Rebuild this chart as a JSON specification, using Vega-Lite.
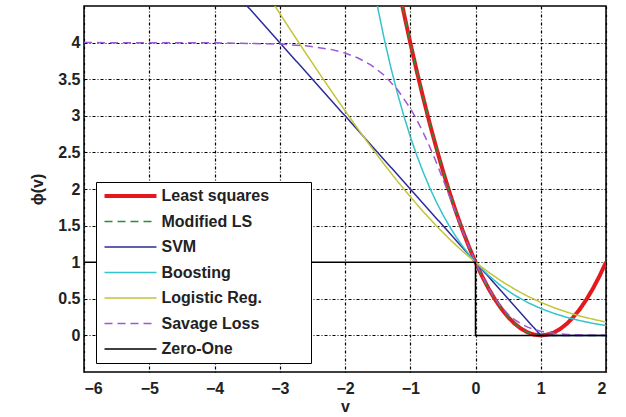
{
  "$schema": "https://vega.github.io/schema/vega-lite/v6.json",
  "width": 522,
  "height": 366,
  "autosize": {"type": "none"},
  "padding": {"left": 84, "top": 6, "right": 20, "bottom": 45},
  "background": "white",
  "config": {
    "view": {"stroke": "black", "strokeWidth": 1.5},
    "font": "Liberation Sans",
    "axis": {
      "labelFont": "Liberation Sans",
      "labelFontSize": 16,
      "labelFontWeight": "bold",
      "labelColor": "#222",
      "titleFont": "Liberation Sans",
      "titleFontSize": 16,
      "titleFontWeight": "bold",
      "titleColor": "#222",
      "domain": false,
      "ticks": false,
      "grid": true,
      "gridColor": "black",
      "gridOpacity": 1,
      "gridWidth": 1.2,
      "gridDash": [3, 2, 1, 2]
    }
  },
  "data": {
    "values": [
      {"series": "Least squares", "v": -1.2, "y": 4.84},
      {"series": "Least squares", "v": -1.1, "y": 4.41},
      {"series": "Least squares", "v": -1.0, "y": 4.0},
      {"series": "Least squares", "v": -0.9, "y": 3.61},
      {"series": "Least squares", "v": -0.8, "y": 3.24},
      {"series": "Least squares", "v": -0.7, "y": 2.89},
      {"series": "Least squares", "v": -0.6, "y": 2.56},
      {"series": "Least squares", "v": -0.5, "y": 2.25},
      {"series": "Least squares", "v": -0.4, "y": 1.96},
      {"series": "Least squares", "v": -0.3, "y": 1.69},
      {"series": "Least squares", "v": -0.2, "y": 1.44},
      {"series": "Least squares", "v": -0.1, "y": 1.21},
      {"series": "Least squares", "v": 0.0, "y": 1.0},
      {"series": "Least squares", "v": 0.1, "y": 0.81},
      {"series": "Least squares", "v": 0.2, "y": 0.64},
      {"series": "Least squares", "v": 0.3, "y": 0.49},
      {"series": "Least squares", "v": 0.4, "y": 0.36},
      {"series": "Least squares", "v": 0.5, "y": 0.25},
      {"series": "Least squares", "v": 0.6, "y": 0.16},
      {"series": "Least squares", "v": 0.7, "y": 0.09},
      {"series": "Least squares", "v": 0.8, "y": 0.04},
      {"series": "Least squares", "v": 0.9, "y": 0.01},
      {"series": "Least squares", "v": 1.0, "y": 0.0},
      {"series": "Least squares", "v": 1.1, "y": 0.01},
      {"series": "Least squares", "v": 1.2, "y": 0.04},
      {"series": "Least squares", "v": 1.3, "y": 0.09},
      {"series": "Least squares", "v": 1.4, "y": 0.16},
      {"series": "Least squares", "v": 1.5, "y": 0.25},
      {"series": "Least squares", "v": 1.6, "y": 0.36},
      {"series": "Least squares", "v": 1.7, "y": 0.49},
      {"series": "Least squares", "v": 1.8, "y": 0.64},
      {"series": "Least squares", "v": 1.9, "y": 0.81},
      {"series": "Least squares", "v": 2.0, "y": 1.0},
      {"series": "Modified LS", "v": -1.2, "y": 4.84},
      {"series": "Modified LS", "v": -1.1, "y": 4.41},
      {"series": "Modified LS", "v": -1.0, "y": 4.0},
      {"series": "Modified LS", "v": -0.9, "y": 3.61},
      {"series": "Modified LS", "v": -0.8, "y": 3.24},
      {"series": "Modified LS", "v": -0.7, "y": 2.89},
      {"series": "Modified LS", "v": -0.6, "y": 2.56},
      {"series": "Modified LS", "v": -0.5, "y": 2.25},
      {"series": "Modified LS", "v": -0.4, "y": 1.96},
      {"series": "Modified LS", "v": -0.3, "y": 1.69},
      {"series": "Modified LS", "v": -0.2, "y": 1.44},
      {"series": "Modified LS", "v": -0.1, "y": 1.21},
      {"series": "Modified LS", "v": 0.0, "y": 1.0},
      {"series": "Modified LS", "v": 0.1, "y": 0.81},
      {"series": "Modified LS", "v": 0.2, "y": 0.64},
      {"series": "Modified LS", "v": 0.3, "y": 0.49},
      {"series": "Modified LS", "v": 0.4, "y": 0.36},
      {"series": "Modified LS", "v": 0.5, "y": 0.25},
      {"series": "Modified LS", "v": 0.6, "y": 0.16},
      {"series": "Modified LS", "v": 0.7, "y": 0.09},
      {"series": "Modified LS", "v": 0.8, "y": 0.04},
      {"series": "Modified LS", "v": 0.9, "y": 0.01},
      {"series": "Modified LS", "v": 1.0, "y": 0.0},
      {"series": "Modified LS", "v": 1.5, "y": 0.0},
      {"series": "Modified LS", "v": 2.0, "y": 0.0},
      {"series": "SVM", "v": -6.0, "y": 7.0},
      {"series": "SVM", "v": 1.0, "y": 0.0},
      {"series": "SVM", "v": 2.0, "y": 0.0},
      {"series": "Boosting", "v": -1.6, "y": 4.953},
      {"series": "Boosting", "v": -1.5, "y": 4.482},
      {"series": "Boosting", "v": -1.4, "y": 4.055},
      {"series": "Boosting", "v": -1.3, "y": 3.669},
      {"series": "Boosting", "v": -1.2, "y": 3.32},
      {"series": "Boosting", "v": -1.1, "y": 3.004},
      {"series": "Boosting", "v": -1.0, "y": 2.718},
      {"series": "Boosting", "v": -0.9, "y": 2.46},
      {"series": "Boosting", "v": -0.8, "y": 2.226},
      {"series": "Boosting", "v": -0.7, "y": 2.014},
      {"series": "Boosting", "v": -0.6, "y": 1.822},
      {"series": "Boosting", "v": -0.5, "y": 1.649},
      {"series": "Boosting", "v": -0.4, "y": 1.492},
      {"series": "Boosting", "v": -0.3, "y": 1.35},
      {"series": "Boosting", "v": -0.2, "y": 1.221},
      {"series": "Boosting", "v": -0.1, "y": 1.105},
      {"series": "Boosting", "v": 0.0, "y": 1.0},
      {"series": "Boosting", "v": 0.2, "y": 0.819},
      {"series": "Boosting", "v": 0.4, "y": 0.67},
      {"series": "Boosting", "v": 0.6, "y": 0.549},
      {"series": "Boosting", "v": 0.8, "y": 0.449},
      {"series": "Boosting", "v": 1.0, "y": 0.368},
      {"series": "Boosting", "v": 1.2, "y": 0.301},
      {"series": "Boosting", "v": 1.4, "y": 0.247},
      {"series": "Boosting", "v": 1.6, "y": 0.202},
      {"series": "Boosting", "v": 1.8, "y": 0.165},
      {"series": "Boosting", "v": 2.0, "y": 0.135},
      {"series": "Logistic Reg.", "v": -3.2, "y": 4.674},
      {"series": "Logistic Reg.", "v": -3.0, "y": 4.398},
      {"series": "Logistic Reg.", "v": -2.8, "y": 4.125},
      {"series": "Logistic Reg.", "v": -2.6, "y": 3.854},
      {"series": "Logistic Reg.", "v": -2.4, "y": 3.588},
      {"series": "Logistic Reg.", "v": -2.2, "y": 3.326},
      {"series": "Logistic Reg.", "v": -2.0, "y": 3.069},
      {"series": "Logistic Reg.", "v": -1.8, "y": 2.818},
      {"series": "Logistic Reg.", "v": -1.6, "y": 2.574},
      {"series": "Logistic Reg.", "v": -1.4, "y": 2.338},
      {"series": "Logistic Reg.", "v": -1.2, "y": 2.111},
      {"series": "Logistic Reg.", "v": -1.0, "y": 1.895},
      {"series": "Logistic Reg.", "v": -0.8, "y": 1.69},
      {"series": "Logistic Reg.", "v": -0.6, "y": 1.497},
      {"series": "Logistic Reg.", "v": -0.4, "y": 1.317},
      {"series": "Logistic Reg.", "v": -0.2, "y": 1.151},
      {"series": "Logistic Reg.", "v": 0.0, "y": 1.0},
      {"series": "Logistic Reg.", "v": 0.2, "y": 0.863},
      {"series": "Logistic Reg.", "v": 0.4, "y": 0.74},
      {"series": "Logistic Reg.", "v": 0.6, "y": 0.631},
      {"series": "Logistic Reg.", "v": 0.8, "y": 0.535},
      {"series": "Logistic Reg.", "v": 1.0, "y": 0.452},
      {"series": "Logistic Reg.", "v": 1.2, "y": 0.38},
      {"series": "Logistic Reg.", "v": 1.4, "y": 0.318},
      {"series": "Logistic Reg.", "v": 1.6, "y": 0.265},
      {"series": "Logistic Reg.", "v": 1.8, "y": 0.221},
      {"series": "Logistic Reg.", "v": 2.0, "y": 0.183},
      {"series": "Savage Loss", "v": -6.0, "y": 4.0},
      {"series": "Savage Loss", "v": -4.0, "y": 3.997},
      {"series": "Savage Loss", "v": -3.0, "y": 3.98},
      {"series": "Savage Loss", "v": -2.6, "y": 3.956},
      {"series": "Savage Loss", "v": -2.2, "y": 3.904},
      {"series": "Savage Loss", "v": -2.0, "y": 3.857},
      {"series": "Savage Loss", "v": -1.8, "y": 3.79},
      {"series": "Savage Loss", "v": -1.6, "y": 3.693},
      {"series": "Savage Loss", "v": -1.4, "y": 3.555},
      {"series": "Savage Loss", "v": -1.2, "y": 3.362},
      {"series": "Savage Loss", "v": -1.0, "y": 3.103},
      {"series": "Savage Loss", "v": -0.9, "y": 2.946},
      {"series": "Savage Loss", "v": -0.8, "y": 2.769},
      {"series": "Savage Loss", "v": -0.7, "y": 2.574},
      {"series": "Savage Loss", "v": -0.6, "y": 2.363},
      {"series": "Savage Loss", "v": -0.5, "y": 2.138},
      {"series": "Savage Loss", "v": -0.4, "y": 1.904},
      {"series": "Savage Loss", "v": -0.3, "y": 1.667},
      {"series": "Savage Loss", "v": -0.2, "y": 1.434},
      {"series": "Savage Loss", "v": -0.1, "y": 1.209},
      {"series": "Savage Loss", "v": 0.0, "y": 1.0},
      {"series": "Savage Loss", "v": 0.1, "y": 0.811},
      {"series": "Savage Loss", "v": 0.2, "y": 0.644},
      {"series": "Savage Loss", "v": 0.3, "y": 0.502},
      {"series": "Savage Loss", "v": 0.4, "y": 0.384},
      {"series": "Savage Loss", "v": 0.5, "y": 0.289},
      {"series": "Savage Loss", "v": 0.6, "y": 0.214},
      {"series": "Savage Loss", "v": 0.7, "y": 0.157},
      {"series": "Savage Loss", "v": 0.8, "y": 0.113},
      {"series": "Savage Loss", "v": 0.9, "y": 0.081},
      {"series": "Savage Loss", "v": 1.0, "y": 0.057},
      {"series": "Savage Loss", "v": 1.2, "y": 0.028},
      {"series": "Savage Loss", "v": 1.4, "y": 0.013},
      {"series": "Savage Loss", "v": 1.6, "y": 0.006},
      {"series": "Savage Loss", "v": 1.8, "y": 0.003},
      {"series": "Savage Loss", "v": 2.0, "y": 0.001},
      {"series": "Zero-One", "v": -6.0, "y": 1.0},
      {"series": "Zero-One", "v": 0.0, "y": 1.0},
      {"series": "Zero-One", "v": 0.0, "y": 0.0},
      {"series": "Zero-One", "v": 2.0, "y": 0.0}
    ]
  },
  "mark": {"type": "line", "clip": true},
  "encoding": {
    "x": {
      "field": "v",
      "type": "quantitative",
      "scale": {"domain": [-6, 2], "nice": false, "zero": false},
      "axis": {
        "title": "v",
        "values": [-6, -5, -4, -3, -2, -1, 0, 1, 2],
        "labelPadding": 8,
        "titlePadding": 2
      }
    },
    "y": {
      "field": "y",
      "type": "quantitative",
      "scale": {"domain": [-0.5, 4.5], "nice": false, "zero": false},
      "axis": {
        "title": "ϕ(v)",
        "values": [0, 0.5, 1, 1.5, 2, 2.5, 3, 3.5, 4],
        "format": "~g",
        "labelPadding": 4,
        "titlePadding": 12
      }
    },
    "order": {"value": null},
    "color": {
      "field": "series",
      "type": "nominal",
      "scale": {
        "domain": ["Least squares", "Modified LS", "SVM", "Boosting", "Logistic Reg.", "Savage Loss", "Zero-One"],
        "range": ["#e5191d", "#2a8a3a", "#2b2b9c", "#33c4cc", "#c4c43a", "#9a5ad2", "#000000"]
      },
      "legend": {
        "title": null,
        "orient": "none",
        "legendX": 12,
        "legendY": 176,
        "fillColor": "white",
        "strokeColor": "black",
        "padding": 6,
        "labelFont": "Liberation Sans",
        "labelFontSize": 16,
        "labelFontWeight": "bold",
        "labelColor": "#222",
        "labelOffset": 23,
        "labelLimit": 200,
        "symbolOffset": 20.5,
        "labelExpr": "datum.label + '\u00a0\u00a0\u00a0\u00a0\u00a0\u00a0\u00a0\u00a0\u200b'",
        "symbolType": "stroke",
        "symbolSize": 2704,
        "symbolStrokeWidth": 1.5,
        "rowPadding": 9.5,
        "encode": {
          "symbols": {
            "update": {
              "strokeWidth": {"signal": "datum.value === 'Least squares' ? 4 : 1.5"}
            }
          }
        }
      }
    },
    "strokeDash": {
      "field": "series",
      "type": "nominal",
      "scale": {
        "domain": ["Least squares", "Modified LS", "SVM", "Boosting", "Logistic Reg.", "Savage Loss", "Zero-One"],
        "range": [[1, 0], [8, 5], [1, 0], [1, 0], [1, 0], [8, 5], [1, 0]]
      }
    },
    "strokeWidth": {
      "condition": {"test": "datum.series === 'Least squares'", "value": 4},
      "value": 1.5
    }
  }
}
